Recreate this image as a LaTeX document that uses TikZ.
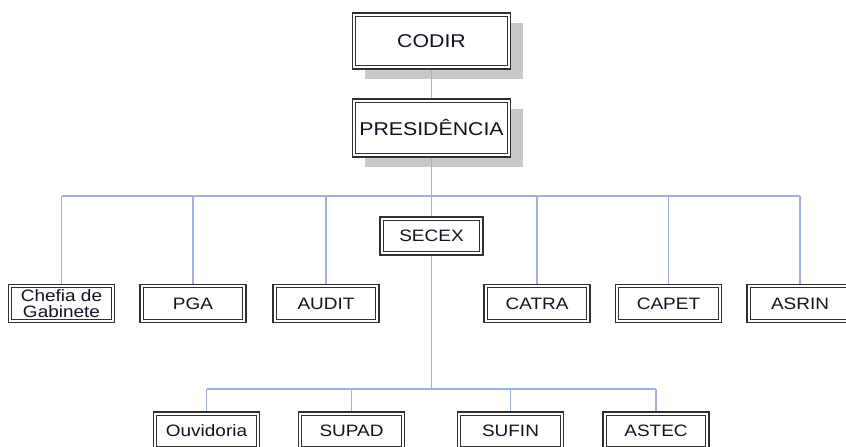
\documentclass[tikz,border=0pt]{standalone}
\usepackage{fontspec}
\setmainfont{Liberation Sans}[FakeStretch=1.15]
\usetikzlibrary{shadows}
\definecolor{linkblue}{HTML}{9DB3DE}
\definecolor{boxline}{HTML}{303030}
\definecolor{shadowgray}{HTML}{C8C8C8}
\definecolor{txt}{HTML}{121222}
\tikzset{
  orgbox/.style={draw=boxline, line width=1.8pt, fill=white, text=txt,
    inner sep=0pt, align=center,
    minimum width=106pt, minimum height=38pt,
    font=\fontsize{16.5}{15.5}\selectfont,
    path picture={\draw[boxline, line width=0.9pt]
      ([shift={(3.2pt,-3.2pt)}]path picture bounding box.north west) rectangle
      ([shift={(-3.2pt,3.2pt)}]path picture bounding box.south east);}},
  topbox/.style={orgbox, minimum width=158pt, font=\fontsize{18.5}{20}\selectfont,
    general shadow={fill=shadowgray, shadow xshift=12pt, shadow yshift=-10pt}},
  link/.style={draw=linkblue, line width=1.5pt}
}
\begin{document}
\begin{tikzpicture}[x=1pt,y=-1pt]
\useasboundingbox (0,0) rectangle (846,447);
\fill[white] (0,0) rectangle (846,447);
% top
\node[topbox, minimum height=56pt] (codir) at (431.5,41) {\raisebox{-2pt}{CODIR}};
\node[topbox, minimum height=58pt] (pres) at (431.5,128) {\raisebox{-1.5pt}{PRESIDÊNCIA}};
\node[orgbox, minimum width=103pt] (secex) at (431.5,236) {\raisebox{-1pt}{SECEX}};
% second row
\node[orgbox] (chefia) at (61.5,303.5) {Chefia de\\Gabinete};
\node[orgbox] (pga) at (193,303.5) {\raisebox{-1.5pt}{PGA}};
\node[orgbox] (audit) at (326,303.5) {\raisebox{-1.5pt}{AUDIT}};
\node[orgbox] (catra) at (537,303.5) {\raisebox{-1.5pt}{CATRA}};
\node[orgbox] (capet) at (668.5,303.5) {\raisebox{-1.5pt}{CAPET}};
\node[orgbox] (asrin) at (800,303.5) {\raisebox{-1.5pt}{ASRIN}};
% third row
\node[orgbox] (ouv) at (206.5,431) {\raisebox{-1.5pt}{Ouvidoria}};
\node[orgbox] (supad) at (351.5,431) {\raisebox{-1.5pt}{SUPAD}};
\node[orgbox] (sufin) at (510.5,431) {\raisebox{-1.5pt}{SUFIN}};
\node[orgbox] (astec) at (656,431) {\raisebox{-1.5pt}{ASTEC}};
% bus coordinates
\coordinate (busl) at (61.5,196);
\coordinate (busr) at (800,196);
\coordinate (bbl) at (206.5,389);
\coordinate (bbr) at (656,389);
% connectors
\draw[link] (codir.south) -- (pres.north);
\draw[link] (pres.south) -- (secex.north);
\draw[link] (busl) -- (busr);
\foreach \n in {chefia,pga,audit,catra,capet,asrin}
  \draw[link] (\n.north) -- (\n.north |- busl);
\draw[link] (secex.south) -- (secex.south |- bbl);
\draw[link] (bbl) -- (bbr);
\foreach \n in {ouv,supad,sufin,astec}
  \draw[link] (\n.north) -- (\n.north |- bbl);
\end{tikzpicture}
\end{document}
